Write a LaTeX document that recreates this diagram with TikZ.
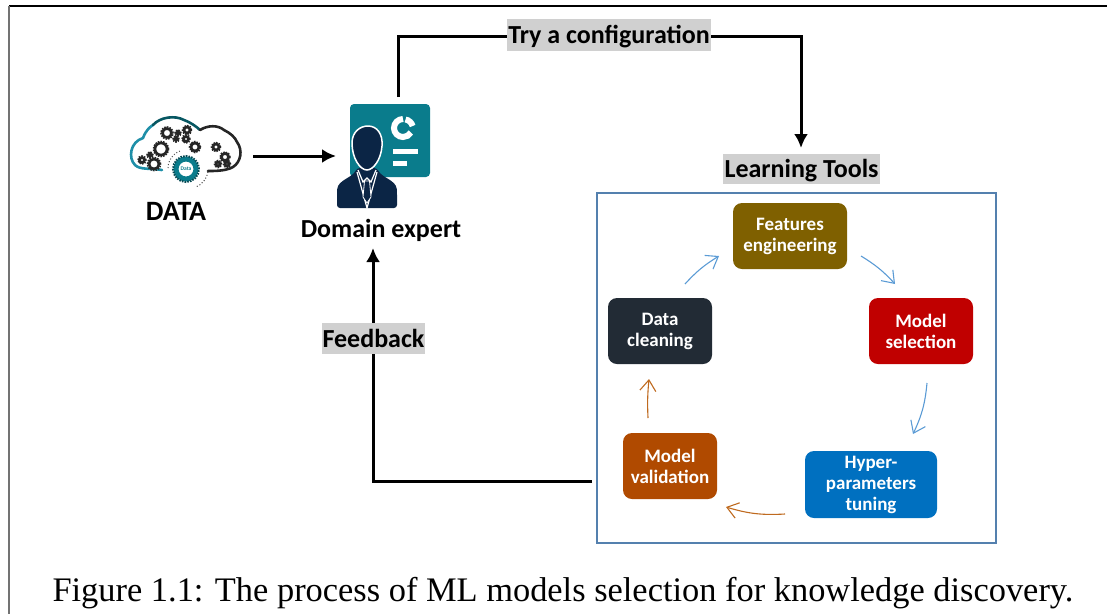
\documentclass[tikz,border=0pt]{standalone}
\usepackage{fontspec}
\setmainfont{Carlito}
\newfontfamily\capfont{Liberation Serif}
\usepackage{xcolor}
\usetikzlibrary{arrows.meta}

\definecolor{featcol}{HTML}{7F6000}
\definecolor{cleancol}{HTML}{222B35}
\definecolor{selcol}{HTML}{C00000}
\definecolor{valcol}{HTML}{B04A00}
\definecolor{tunecol}{HTML}{0070C0}
\definecolor{framecol}{HTML}{5480AE}
\definecolor{flowblue}{HTML}{5B9BD5}
\definecolor{floworange}{HTML}{BF6A1F}
\definecolor{cardcol}{HTML}{0A7C8C}
\definecolor{cloudcol}{HTML}{1F8FA8}
\definecolor{navycol}{HTML}{0B2545}
\definecolor{tagcol}{HTML}{D0D0D0}

\tikzset{
  stage/.style={rounded corners=9pt,inner sep=0pt,align=center,text=white,font=\fontsize{19}{21}\selectfont\bfseries,execute at begin node=\rule{0pt}{19pt}},
  plain/.style={inner sep=0pt,text height=23pt,text depth=6pt,font=\fontsize{26}{30}\selectfont\bfseries},
  tag/.style={plain,fill=tagcol},
  flow/.style={line width=3pt,-{Latex[length=14pt,width=14pt]}},
  cycleblue/.style={flowblue,line width=1.1pt,-{Straight Barb[length=11pt,width=16pt]}},
  cycleorange/.style={floworange,line width=1.1pt,-{Straight Barb[length=11pt,width=16pt]}},
  gearteeth/.style={dash pattern=on 1.6pt off 1.1pt}
}

% ring with teeth: x, y, outer radius
\newcommand{\gearat}[3]{
  \draw[black!85,line width=2.6pt] (#1,#2) circle(#3 pt - 1pt);
  \draw[black!85,line width=1.4pt,gearteeth] (#1,#2) circle(#3 pt + 0.6pt);
}

\begin{document}
\begin{tikzpicture}[x=1pt,y=-1pt]
\useasboundingbox (0,0) rectangle (1107,614);

% page frame
\draw[black,line width=1.3pt] (9,6) -- (1107,6);
\draw[black!55,line width=1.5pt] (9,6) -- (9,614);

% cloud
\draw[cloudcol,line width=2.6pt,line cap=round] (162,170) .. controls (150,168) and (140,170) .. (135,165)
  .. controls (128,158) and (130,142) .. (143,138) .. controls (146,130) and (150,127) .. (153,125);
\draw[cardcol!70!black,line width=2.6pt,line cap=round] (153,125) .. controls (160,117) and (175,115) .. (184,120)
  .. controls (190,122) and (197,127) .. (200,130);
\draw[black!85,line width=2.6pt,line cap=round] (200,130) .. controls (208,125) and (218,125) .. (224,130)
  .. controls (230,133) and (235,137) .. (237,142) .. controls (243,150) and (241,162) .. (233,167)
  .. controls (226,171) and (215,171) .. (208,171);
\gearat{167}{133}{5.5}
\gearat{178}{133}{2.5}
\gearat{187}{130}{4}
\gearat{176}{139}{2.5}
\gearat{186}{139}{3.5}
\gearat{195}{147}{5}
\gearat{161}{149}{7}
\gearat{150}{155}{2.5}
\gearat{142}{160}{3.5}
\gearat{154}{164}{6}
\gearat{216}{147}{4}
\gearat{225}{157}{4.5}
\gearat{218}{164}{3}
\gearat{227}{164}{3}
\draw[cardcol,line width=5pt] (186,169) circle(10pt);
\draw[cardcol!60!black,line width=2pt,gearteeth] (186,169) circle(13pt);
\draw[black!70,line width=1pt,dotted] (168,168) arc(180:110:18pt);
\draw[black!70,line width=1pt,dotted] (208,172) arc(-10:-70:20pt);
\node[inner sep=0pt,font=\fontsize{5.5}{6}\selectfont\bfseries,text=cardcol] (datagear) at (186,169) {Data};
\node[plain,font=\fontsize{28}{30}\selectfont\bfseries] (data) at (176,212) {DATA};
\coordinate (datar) at (253,156);

% expert
\fill[cardcol,rounded corners=4pt] (350,104) rectangle (430,177);
\draw[white,line width=6pt] (403,119) arc(90:330:9pt);
\draw[white,line width=6pt] (405.5,119.5) arc(80:15:9pt);
\fill[white] (393,149) rectangle (418,154);
\fill[white] (393,161) rectangle (407,166);
\fill[navycol,rounded corners=3pt] (337,208) -- (337,192) .. controls (338,180) and (352,178) .. (357,168)
  -- (377,168) .. controls (382,178) and (396,180) .. (397,192) -- (397,208) -- cycle;
\draw[white,fill=navycol,line width=1.5pt] (352,143) .. controls (352,132) and (360,126) .. (368,126)
  .. controls (377,126) and (383,134) .. (382,146) .. controls (381,160) and (373,170) .. (367,170)
  .. controls (360,170) and (352,158) .. (352,143) -- cycle;
\draw[white,line width=1.2pt] (357,172) -- (367,208) -- (377,172);
\draw[white,line width=1.2pt] (358,170) -- (363,182) -- (367,178) -- (371,182) -- (376,170);
\draw[white,fill=navycol,line width=.8pt] (364.5,181) -- (369.5,181) -- (371,197) -- (367,203) -- (363,197) -- cycle;
\node[plain] (expert) at (381,229) {Domain expert};
\coordinate (expertl) at (336,156);
\coordinate (expertt) at (398,97);
\coordinate (expertb) at (373,248);

% learning tools box
\draw[framecol,line width=2.8pt] (597,193) rectangle (996,543);
\node[tag,minimum width=157pt,minimum height=30pt] (tools) at (801.5,169) {Learning Tools};
\node[stage,fill=featcol,minimum width=114pt,minimum height=66pt] (feat) at (790,236) {Features\\engineering};
\node[stage,fill=cleancol,minimum width=104pt,minimum height=66pt] (clean) at (660,331) {Data\\cleaning};
\node[stage,fill=selcol,minimum width=104pt,minimum height=66pt] (sel) at (921,331) {Model\\selection};
\node[stage,fill=valcol,minimum width=94pt,minimum height=66pt] (val) at (670,466) {Model\\validation};
\node[stage,fill=tunecol,minimum width=132pt,minimum height=67pt] (tune) at (871,484.5) {Hyper-\\parameters\\tuning};

% cycle arrows
\coordinate (c1a) at (685,284);
\coordinate (c1b) at (719,256);
\coordinate (c2a) at (861,256);
\coordinate (c2b) at (895,284);
\coordinate (c3a) at (927,383);
\coordinate (c3b) at (913,434);
\coordinate (c4a) at (785,514);
\coordinate (c4b) at (726,507);
\coordinate (c5a) at (648,418);
\coordinate (c5b) at (649,379);
\draw[cycleblue] (c1a) to[bend left=8] (c1b);
\draw[cycleblue] (c2a) to[bend left=8] (c2b);
\draw[cycleblue] (c3a) to[bend left=10] (c3b);
\draw[cycleorange] (c4a) to[bend left=10] (c4b);
\draw[cycleorange] (c5a) to[bend left=4] (c5b);

% main flow
\coordinate (toolst) at (801,148);
\draw[flow] (datar) -- (expertl);
\draw[flow] (expertt) |- (507,36) -- (801,36) -- (toolst);
\node[tag,minimum width=204pt,minimum height=32pt] (try) at (609,35) {Try a configuration};
\coordinate (boxl) at (592,481);
\draw[flow] (boxl) -| (expertb);
\node[tag,minimum width=103pt,minimum height=31pt] (fb) at (373.5,338.5) {Feedback};

\node[font=\capfont\fontsize{34.4}{40}\selectfont] (cap) at (563,593) {Figure 1.1: The process of ML models selection for knowledge discovery.};
\end{tikzpicture}
\end{document}
